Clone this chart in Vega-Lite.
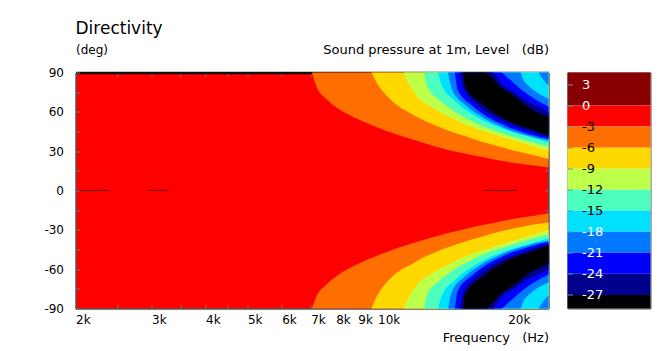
{
  "$schema": "https://vega.github.io/schema/vega-lite/v6.json",
  "background": "white",
  "padding": {"left": 42.5, "top": 19.5, "right": 17, "bottom": 5},
  "spacing": 17,
  "config": {
    "font": "DejaVu Sans",
    "axis": {"labelFont": "DejaVu Sans", "titleFont": "DejaVu Sans", "labelFontSize": 12, "titleFontSize": 12, "titleFontWeight": "normal", "labelColor": "#000000", "titleColor": "#000000", "grid": false, "zindex": 1},
    "title": {"font": "DejaVu Sans"}
  },
  "datasets": {
    "reg": [
      {"lv":-3,"p":1,"f":7050,"u1":90,"u2":90,"d1":-90,"d2":-90},
      {"lv":-3,"p":1,"f":7150,"u1":83,"u2":90,"d1":-90,"d2":-84},
      {"lv":-3,"p":1,"f":7250,"u1":78,"u2":90,"d1":-90,"d2":-79.5},
      {"lv":-3,"p":1,"f":7600,"u1":70,"u2":90,"d1":-90,"d2":-72},
      {"lv":-3,"p":1,"f":8100,"u1":62.5,"u2":90,"d1":-90,"d2":-64.5},
      {"lv":-3,"p":1,"f":9000,"u1":54.5,"u2":90,"d1":-90,"d2":-56},
      {"lv":-3,"p":1,"f":10000,"u1":48,"u2":90,"d1":-90,"d2":-49.5},
      {"lv":-3,"p":1,"f":11000,"u1":43,"u2":90,"d1":-90,"d2":-44.5},
      {"lv":-3,"p":1,"f":12000,"u1":39,"u2":90,"d1":-90,"d2":-40.5},
      {"lv":-3,"p":1,"f":13000,"u1":35.5,"u2":90,"d1":-90,"d2":-37},
      {"lv":-3,"p":1,"f":14000,"u1":32.5,"u2":90,"d1":-90,"d2":-34},
      {"lv":-3,"p":1,"f":15000,"u1":30,"u2":90,"d1":-90,"d2":-31.5},
      {"lv":-3,"p":1,"f":16000,"u1":28,"u2":90,"d1":-90,"d2":-29.2},
      {"lv":-3,"p":1,"f":17500,"u1":25.5,"u2":90,"d1":-90,"d2":-26.4},
      {"lv":-3,"p":1,"f":19000,"u1":23,"u2":90,"d1":-90,"d2":-24},
      {"lv":-3,"p":1,"f":21000,"u1":20.8,"u2":90,"d1":-90,"d2":-21.2},
      {"lv":-3,"p":1,"f":23000,"u1":19,"u2":90,"d1":-90,"d2":-19.2},
      {"lv":-3,"p":1,"f":24860,"u1":17.6,"u2":90,"d1":-90,"d2":-17.4},

      {"lv":-6,"p":1,"f":9680,"u1":90,"u2":90,"d1":-90,"d2":-90},
      {"lv":-6,"p":1,"f":9850,"u1":85,"u2":90,"d1":-90,"d2":-84},
      {"lv":-6,"p":1,"f":10100,"u1":79,"u2":90,"d1":-90,"d2":-77.3},
      {"lv":-6,"p":1,"f":10600,"u1":71,"u2":90,"d1":-90,"d2":-68.4},
      {"lv":-6,"p":1,"f":11200,"u1":64,"u2":90,"d1":-90,"d2":-61.5},
      {"lv":-6,"p":1,"f":11900,"u1":59,"u2":90,"d1":-90,"d2":-56.9},
      {"lv":-6,"p":1,"f":12600,"u1":54.5,"u2":90,"d1":-90,"d2":-52},
      {"lv":-6,"p":1,"f":13400,"u1":50.5,"u2":90,"d1":-90,"d2":-48},
      {"lv":-6,"p":1,"f":14500,"u1":46,"u2":90,"d1":-90,"d2":-43.5},
      {"lv":-6,"p":1,"f":15900,"u1":41.5,"u2":90,"d1":-90,"d2":-39.1},
      {"lv":-6,"p":1,"f":17500,"u1":37,"u2":90,"d1":-90,"d2":-35},
      {"lv":-6,"p":1,"f":19100,"u1":33.5,"u2":90,"d1":-90,"d2":-31.5},
      {"lv":-6,"p":1,"f":21000,"u1":30,"u2":90,"d1":-90,"d2":-28.5},
      {"lv":-6,"p":1,"f":23000,"u1":26.8,"u2":90,"d1":-90,"d2":-26},
      {"lv":-6,"p":1,"f":24860,"u1":24,"u2":90,"d1":-90,"d2":-24.2},

      {"lv":-9,"p":1,"f":11500,"u1":90,"u2":90,"d1":-90,"d2":-90},
      {"lv":-9,"p":1,"f":11650,"u1":85,"u2":90,"d1":-90,"d2":-85},
      {"lv":-9,"p":1,"f":11900,"u1":79.8,"u2":90,"d1":-90,"d2":-79.8},
      {"lv":-9,"p":1,"f":12400,"u1":70.9,"u2":90,"d1":-90,"d2":-70.9},
      {"lv":-9,"p":1,"f":13100,"u1":65,"u2":90,"d1":-90,"d2":-65},
      {"lv":-9,"p":1,"f":13800,"u1":60.7,"u2":90,"d1":-90,"d2":-60.7},
      {"lv":-9,"p":1,"f":14800,"u1":55.5,"u2":90,"d1":-90,"d2":-55.5},
      {"lv":-9,"p":1,"f":15900,"u1":50.6,"u2":90,"d1":-90,"d2":-50.6},
      {"lv":-9,"p":1,"f":17500,"u1":45.5,"u2":90,"d1":-90,"d2":-45.5},
      {"lv":-9,"p":1,"f":19100,"u1":41.6,"u2":90,"d1":-90,"d2":-41.6},
      {"lv":-9,"p":1,"f":21000,"u1":37.5,"u2":90,"d1":-90,"d2":-37.5},
      {"lv":-9,"p":1,"f":22700,"u1":34,"u2":90,"d1":-90,"d2":-34},
      {"lv":-9,"p":1,"f":24860,"u1":30.2,"u2":90,"d1":-90,"d2":-30.2},

      {"lv":-12,"p":1,"f":12800,"u1":90,"u2":90,"d1":-90,"d2":-90},
      {"lv":-12,"p":1,"f":12900,"u1":85,"u2":90,"d1":-90,"d2":-85},
      {"lv":-12,"p":1,"f":13000,"u1":79.8,"u2":90,"d1":-90,"d2":-79.8},
      {"lv":-12,"p":1,"f":13800,"u1":69.7,"u2":90,"d1":-90,"d2":-69.7},
      {"lv":-12,"p":1,"f":14600,"u1":63.5,"u2":90,"d1":-90,"d2":-63.5},
      {"lv":-12,"p":1,"f":15400,"u1":58.2,"u2":90,"d1":-90,"d2":-58.2},
      {"lv":-12,"p":1,"f":16500,"u1":53,"u2":90,"d1":-90,"d2":-53},
      {"lv":-12,"p":1,"f":17800,"u1":48,"u2":90,"d1":-90,"d2":-48},
      {"lv":-12,"p":1,"f":19300,"u1":44,"u2":90,"d1":-90,"d2":-44},
      {"lv":-12,"p":1,"f":20900,"u1":40.3,"u2":90,"d1":-90,"d2":-40.3},
      {"lv":-12,"p":1,"f":22800,"u1":36.8,"u2":90,"d1":-90,"d2":-36.8},
      {"lv":-12,"p":1,"f":24860,"u1":33.5,"u2":90,"d1":-90,"d2":-33.5},

      {"lv":-15,"p":1,"f":13800,"u1":90,"u2":90,"d1":-90,"d2":-90},
      {"lv":-15,"p":1,"f":13950,"u1":84,"u2":90,"d1":-90,"d2":-84},
      {"lv":-15,"p":1,"f":14100,"u1":79.8,"u2":90,"d1":-90,"d2":-79.8},
      {"lv":-15,"p":1,"f":15100,"u1":68.4,"u2":90,"d1":-90,"d2":-68.4},
      {"lv":-15,"p":1,"f":15900,"u1":62,"u2":90,"d1":-90,"d2":-62},
      {"lv":-15,"p":1,"f":16800,"u1":56.9,"u2":90,"d1":-90,"d2":-56.9},
      {"lv":-15,"p":1,"f":17900,"u1":52,"u2":90,"d1":-90,"d2":-52},
      {"lv":-15,"p":1,"f":19100,"u1":48,"u2":90,"d1":-90,"d2":-48},
      {"lv":-15,"p":1,"f":20500,"u1":44.5,"u2":90,"d1":-90,"d2":-44.5},
      {"lv":-15,"p":1,"f":22000,"u1":41.6,"u2":90,"d1":-90,"d2":-41.6},
      {"lv":-15,"p":1,"f":24860,"u1":36.5,"u2":90,"d1":-90,"d2":-36.5},

      {"lv":-18,"p":1,"f":14560,"u1":90,"u2":90,"d1":-90,"d2":-90},
      {"lv":-18,"p":1,"f":14700,"u1":83,"u2":90,"d1":-90,"d2":-83},
      {"lv":-18,"p":1,"f":14850,"u1":77.3,"u2":90,"d1":-90,"d2":-77.3},
      {"lv":-18,"p":1,"f":15900,"u1":65.8,"u2":90,"d1":-90,"d2":-65.8},
      {"lv":-18,"p":1,"f":16800,"u1":59.5,"u2":90,"d1":-90,"d2":-59.5},
      {"lv":-18,"p":1,"f":17800,"u1":54.4,"u2":90,"d1":-90,"d2":-54.4},
      {"lv":-18,"p":1,"f":19100,"u1":49.5,"u2":90,"d1":-90,"d2":-49.5},
      {"lv":-18,"p":1,"f":20500,"u1":45.4,"u2":90,"d1":-90,"d2":-45.4},
      {"lv":-18,"p":1,"f":21400,"u1":43.5,"u2":90,"d1":-90,"d2":-43.5},
      {"lv":-18,"p":1,"f":21700,"u1":42.9,"u2":85,"d1":-85,"d2":-42.9},
      {"lv":-18,"p":1,"f":22500,"u1":41.5,"u2":79,"d1":-79,"d2":-41.5},
      {"lv":-18,"p":1,"f":23200,"u1":40.3,"u2":75.5,"d1":-75.5,"d2":-40.3},
      {"lv":-18,"p":1,"f":24000,"u1":39.2,"u2":72.5,"d1":-72.5,"d2":-39.2},
      {"lv":-18,"p":1,"f":24860,"u1":38.2,"u2":70,"d1":-70,"d2":-38.2},
      {"lv":-18,"p":2,"f":23600,"u1":90,"u2":90,"d1":-90,"d2":-90},
      {"lv":-18,"p":2,"f":24000,"u1":86,"u2":90,"d1":-90,"d2":-86},
      {"lv":-18,"p":2,"f":24860,"u1":80,"u2":90,"d1":-90,"d2":-80},

      {"lv":-21,"p":1,"f":15100,"u1":90,"u2":90,"d1":-90,"d2":-90},
      {"lv":-21,"p":1,"f":15200,"u1":83,"u2":90,"d1":-90,"d2":-83},
      {"lv":-21,"p":1,"f":15300,"u1":77.3,"u2":90,"d1":-90,"d2":-77.3},
      {"lv":-21,"p":1,"f":16600,"u1":64.5,"u2":90,"d1":-90,"d2":-64.5},
      {"lv":-21,"p":1,"f":17600,"u1":58,"u2":90,"d1":-90,"d2":-58},
      {"lv":-21,"p":1,"f":18700,"u1":53,"u2":90,"d1":-90,"d2":-53},
      {"lv":-21,"p":1,"f":19300,"u1":50.9,"u2":90,"d1":-90,"d2":-50.9},
      {"lv":-21,"p":1,"f":20000,"u1":48.5,"u2":86,"d1":-86,"d2":-48.5},
      {"lv":-21,"p":1,"f":21600,"u1":44.7,"u2":76.5,"d1":-76.5,"d2":-44.7},
      {"lv":-21,"p":1,"f":23200,"u1":41.5,"u2":69.5,"d1":-69.5,"d2":-41.5},
      {"lv":-21,"p":1,"f":24860,"u1":39.3,"u2":64,"d1":-64,"d2":-39.3},

      {"lv":-24,"p":1,"f":15500,"u1":90,"u2":90,"d1":-90,"d2":-90},
      {"lv":-24,"p":1,"f":15600,"u1":84,"u2":90,"d1":-90,"d2":-84},
      {"lv":-24,"p":1,"f":15700,"u1":79.8,"u2":90,"d1":-90,"d2":-79.8},
      {"lv":-24,"p":1,"f":17100,"u1":64.5,"u2":90,"d1":-90,"d2":-64.5},
      {"lv":-24,"p":1,"f":18200,"u1":58,"u2":90,"d1":-90,"d2":-58},
      {"lv":-24,"p":1,"f":18500,"u1":56.7,"u2":90,"d1":-90,"d2":-56.7},
      {"lv":-24,"p":1,"f":19400,"u1":53,"u2":81,"d1":-81,"d2":-53},
      {"lv":-24,"p":1,"f":20800,"u1":49,"u2":74.5,"d1":-74.5,"d2":-49},
      {"lv":-24,"p":1,"f":22400,"u1":45.4,"u2":67.3,"d1":-67.3,"d2":-45.4},
      {"lv":-24,"p":1,"f":23600,"u1":42.8,"u2":63.7,"d1":-63.7,"d2":-42.8},
      {"lv":-24,"p":1,"f":24860,"u1":40.6,"u2":60,"d1":-60,"d2":-40.6},

      {"lv":-27,"p":1,"f":15750,"u1":90,"u2":90,"d1":-90,"d2":-90},
      {"lv":-27,"p":1,"f":15850,"u1":84,"u2":90,"d1":-90,"d2":-84},
      {"lv":-27,"p":1,"f":15900,"u1":79.8,"u2":90,"d1":-90,"d2":-79.8},
      {"lv":-27,"p":1,"f":17500,"u1":65.8,"u2":90,"d1":-90,"d2":-65.8},
      {"lv":-27,"p":1,"f":17800,"u1":64,"u2":90,"d1":-90,"d2":-64},
      {"lv":-27,"p":1,"f":18500,"u1":59.5,"u2":85.5,"d1":-85.5,"d2":-59.5},
      {"lv":-27,"p":1,"f":19100,"u1":57,"u2":79.8,"d1":-79.8,"d2":-57},
      {"lv":-27,"p":1,"f":19700,"u1":54.4,"u2":76.9,"d1":-76.9,"d2":-54.4},
      {"lv":-27,"p":1,"f":20900,"u1":50.6,"u2":70.9,"d1":-70.9,"d2":-50.6},
      {"lv":-27,"p":1,"f":22700,"u1":46.8,"u2":62,"d1":-62,"d2":-46.8},
      {"lv":-27,"p":1,"f":23800,"u1":44,"u2":58.5,"d1":-58.5,"d2":-44},
      {"lv":-27,"p":1,"f":24860,"u1":42,"u2":56,"d1":-56,"d2":-42}
    ],
    "dash": [
      {"f": 2040, "f2": 2390, "a": 0},
      {"f": 2960, "f2": 3290, "a": 0},
      {"f": 17670, "f2": 21030, "a": 0}
    ],
    "bar": [
      {"lv": 3, "lo": 0, "hi": 4.714},
      {"lv": 0, "lo": -3, "hi": 0},
      {"lv": -3, "lo": -6, "hi": -3},
      {"lv": -6, "lo": -9, "hi": -6},
      {"lv": -9, "lo": -12, "hi": -9},
      {"lv": -12, "lo": -15, "hi": -12},
      {"lv": -15, "lo": -18, "hi": -15},
      {"lv": -18, "lo": -21, "hi": -18},
      {"lv": -21, "lo": -24, "hi": -21},
      {"lv": -24, "lo": -27, "hi": -24},
      {"lv": -27, "lo": -28.94, "hi": -27}
    ]
  },
  "hconcat": [
    {
      "width": 473,
      "height": 236,
      "view": {"fill": "#FF0000", "stroke": "#555555"},
      "title": {"text": "Directivity", "anchor": "start", "frame": "group", "fontSize": 17, "fontWeight": "normal", "color": "#000000", "offset": 5},
      "layer": [
        {
          "data": {"name": "reg"},
          "mark": {"type": "area", "interpolate": "monotone"},
          "encoding": {
            "x": {"field": "f", "type": "quantitative",
                  "scale": {"type": "log", "domain": [2000, 24860], "nice": false},
                  "axis": {"orient": "bottom", "values": [2000,2500,3000,3500,4000,4500,5000,6000,7000,8000,9000,10000,15000,20000],
                           "labelExpr": "indexof([2000,3000,4000,5000,6000,7000,8000,9000,10000,20000], datum.value) >= 0 ? (datum.value/1000) + 'k' : ''",
                           "labelAlign": "left", "labelFlush": false, "labelOverlap": false, "labelBound": false,
                           "tickSize": -4, "tickColor": "#777777", "domainColor": "#555555", "labelPadding": 10,
                           "title": "Frequency \u00a0\u00a0(Hz)", "titleFontSize": 13, "titleAnchor": "end", "titlePadding": 6}},
            "y": {"field": "u1", "type": "quantitative", "stack": null,
                  "scale": {"domain": [-90, 90], "nice": false, "zero": false},
                  "axis": {"orient": "left", "values": [-90,-75,-60,-45,-30,-15,0,15,30,45,60,75,90],
                           "labelExpr": "datum.value % 30 === 0 ? '' + datum.value : ''",
                           "labelOverlap": false, "tickSize": -4, "tickColor": "#777777", "domainColor": "#555555", "labelPadding": 16,
                           "title": "(deg)", "titleAngle": 0, "titleX": 0, "titleY": -19.5, "titleAlign": "left", "titleBaseline": "alphabetic"}},
            "y2": {"field": "u2"},
            "color": {"field": "lv", "type": "ordinal",
                      "scale": {"domain": [3,0,-3,-6,-9,-12,-15,-18,-21,-24,-27],
                                "range": ["#880000","#FF0000","#FF6E00","#FFD800","#BEFF4A","#4DFFBE","#00E0FF","#0078FF","#0000FF","#00008C","#000000"]},
                      "legend": null},
            "detail": {"field": "p"}
          }
        },
        {
          "data": {"name": "reg"},
          "mark": {"type": "area", "interpolate": "monotone"},
          "encoding": {
            "x": {"field": "f", "type": "quantitative", "scale": {"type": "log", "domain": [2000, 24860], "nice": false}, "axis": null},
            "y": {"field": "d1", "type": "quantitative", "stack": null, "scale": {"domain": [-90, 90], "nice": false, "zero": false}, "axis": null},
            "y2": {"field": "d2"},
            "color": {"field": "lv", "type": "ordinal",
                      "scale": {"domain": [3,0,-3,-6,-9,-12,-15,-18,-21,-24,-27],
                                "range": ["#880000","#FF0000","#FF6E00","#FFD800","#BEFF4A","#4DFFBE","#00E0FF","#0078FF","#0000FF","#00008C","#000000"]},
                      "legend": null},
            "detail": {"field": "p"}
          }
        },
        {
          "data": {"name": "dash"},
          "mark": {"type": "rule", "color": "#6a0000", "strokeWidth": 1},
          "encoding": {
            "x": {"field": "f", "type": "quantitative",
                  "scale": {"type": "log", "domain": [2000, 24860], "nice": false},
                  "axis": {"orient": "top", "values": [2500,3000,3500,4000,4500,5000,6000,7000,8000,9000,10000,15000,20000],
                           "labels": false, "tickSize": -4, "tickColor": "#777777", "domainColor": "#111111", "domainWidth": 2.5, "title": null}},
            "x2": {"field": "f2"},
            "y": {"field": "a", "type": "quantitative",
                  "scale": {"domain": [-90, 90], "nice": false, "zero": false},
                  "axis": {"orient": "right", "values": [-75,-60,-45,-30,-15,0,15,30,45,60,75],
                           "labels": false, "tickSize": -4, "tickColor": "#777777", "domainColor": "#555555",
                           "title": "Sound pressure at 1m, Level \u00a0\u00a0(dB)", "titleFontSize": 13, "titleAngle": 0, "titleX": 0, "titleY": -19.5, "titleAlign": "right", "titleBaseline": "alphabetic"}}
          }
        }
      ],
      "resolve": {"axis": {"x": "independent", "y": "independent"}}
    },
    {
      "width": 83,
      "height": 236,
      "view": {"stroke": "#555555"},
      "data": {"name": "bar"},
      "mark": {"type": "rect"},
      "encoding": {
        "y": {"field": "lo", "type": "quantitative",
              "scale": {"domain": [-28.94, 4.714], "nice": false, "zero": false},
              "axis": {"orient": "left", "values": [3,0,-3,-6,-9,-12,-15,-18,-21,-24,-27],
                       "labelExpr": "'' + datum.value", "labelOverlap": false, "labelFontSize": 13,
                       "tickSize": -5, "tickColor": "#4f9fa8", "domain": false, "zindex": 1,
                       "labelAlign": "left", "labelBaseline": "middle", "labelPadding": -9,
                       "labelColor": {"condition": {"test": "datum.value >= 0 || datum.value <= -18", "value": "#ffffff"}, "value": "#000000"},
                       "title": null}},
        "y2": {"field": "hi"},
        "color": {"field": "lv", "type": "ordinal",
                  "scale": {"domain": [3,0,-3,-6,-9,-12,-15,-18,-21,-24,-27],
                            "range": ["#880000","#FF0000","#FF6E00","#FFD800","#BEFF4A","#4DFFBE","#00E0FF","#0078FF","#0000FF","#00008C","#000000"]},
                  "legend": null}
      }
    }
  ]
}
